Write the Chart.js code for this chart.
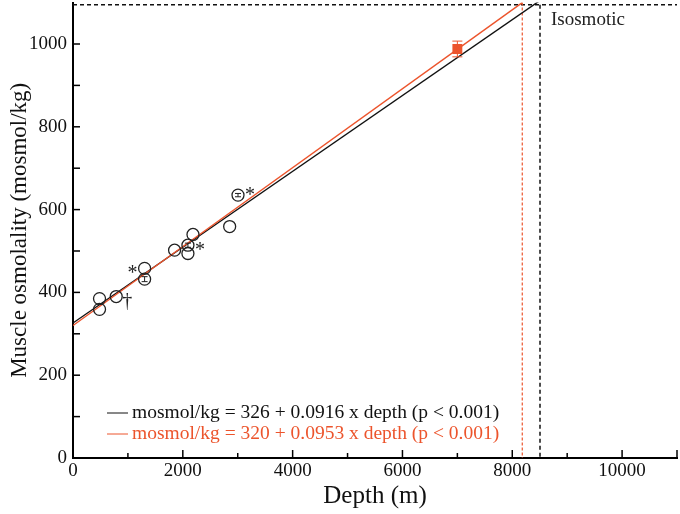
<!DOCTYPE html>
<html>
<head>
<meta charset="utf-8">
<script src="https://cdn.jsdelivr.net/npm/chart.js@4/dist/chart.umd.min.js"></script>
<style>
  body { margin: 0; background: #fff; }
</style>
</head>
<body>
<canvas id="chart" width="680" height="514"></canvas>
<script>
// shallow species (open circles)
const depth = [483, 483, 787, 1304, 1304, 1850, 2093, 2093, 2185, 2853, 3005];
const osmolality = [385, 359, 390, 458, 432, 502, 514, 494, 540, 559, 635];
const osmError = [0, 0, 0, 0, 6, 0, 5, 0, 0, 0, 4];
const marks = ['', '', '†', '*', '', '', '*', '', '', '', '*'];

// hadal snailfish (red square)
const deepDepth = [7000];
const deepOsm = [988];
const deepError = [19];

// regression lines, end points
const fitBlackX = [0, 8505];
const fitBlackY = [326, 1105];
const fitRedX = [0, 8182];
const fitRedY = [320, 1100];

// isosmotic limits
const isoOsm = 1095;
const isoDepthBlack = 8505;
const isoDepthRed = 8182;

const legendLines = [
    'mosmol/kg = 326 + 0.0916 x depth (p < 0.001)',
    'mosmol/kg = 320 + 0.0953 x depth (p < 0.001)'
];

const RED = 'rgb(236,84,44)';
const SERIF = '"Liberation Serif", "DejaVu Serif", serif';

const toPts = (xs, ys) => xs.map((x, i) => ({ x: x, y: ys[i] }));

const extras = {
    id: 'extras',
    afterDatasetsDraw(chart) {
        const ctx = chart.ctx;
        const xs = chart.scales.x, ys = chart.scales.y;
        const area = chart.chartArea;
        ctx.save();

        // inward ticks
        ctx.strokeStyle = '#000';
        ctx.lineWidth = 1.5;
        for (let v = 1000; v <= xs.max; v += 1000) {
            const px = xs.getPixelForValue(v);
            const len = v % 2000 === 0 || v === xs.max ? 8 : 5;
            ctx.beginPath();
            ctx.moveTo(px, area.bottom);
            ctx.lineTo(px, area.bottom - len);
            ctx.stroke();
        }
        for (let v = 100; v <= 1000; v += 100) {
            const py = ys.getPixelForValue(v);
            ctx.beginPath();
            ctx.moveTo(area.left, py);
            ctx.lineTo(area.left + 7, py);
            ctx.stroke();
        }

        // error bars
        ctx.lineWidth = 1;
        ctx.strokeStyle = '#222';
        depth.forEach((d, i) => {
            if (!osmError[i]) return;
            const px = xs.getPixelForValue(d);
            const top = ys.getPixelForValue(osmolality[i] + osmError[i]);
            const bot = ys.getPixelForValue(osmolality[i] - osmError[i]);
            ctx.beginPath();
            ctx.moveTo(px, top); ctx.lineTo(px, bot);
            ctx.moveTo(px - 3, top); ctx.lineTo(px + 3, top);
            ctx.moveTo(px - 3, bot); ctx.lineTo(px + 3, bot);
            ctx.stroke();
        });
        ctx.strokeStyle = RED;
        deepDepth.forEach((d, i) => {
            const px = xs.getPixelForValue(d);
            const top = ys.getPixelForValue(deepOsm[i] + deepError[i]);
            const bot = ys.getPixelForValue(deepOsm[i] - deepError[i]);
            ctx.beginPath();
            ctx.moveTo(px, top); ctx.lineTo(px, bot);
            ctx.moveTo(px - 5, top); ctx.lineTo(px + 5, top);
            ctx.moveTo(px - 5, bot); ctx.lineTo(px + 5, bot);
            ctx.stroke();
        });

        // asterisks and dagger
        ctx.fillStyle = '#222';
        ctx.font = '20px ' + SERIF;
        ctx.textBaseline = 'middle';
        ctx.textAlign = 'center';
        marks.forEach((m, i) => {
            if (!m) return;
            const px = xs.getPixelForValue(depth[i]);
            const py = ys.getPixelForValue(osmolality[i]);
            if (m === '†') ctx.fillText(m, px + 11, py + 5);
            else if (i === 3) ctx.fillText(m, px - 12, py + 5);
            else if (i === 10) ctx.fillText(m, px + 12, py + 1);
            else ctx.fillText(m, px + 12, py + 6);
        });

        // isosmotic label
        ctx.textAlign = 'left';
        ctx.font = '19px ' + SERIF;
        ctx.fillText('Isosmotic', xs.getPixelForValue(isoDepthBlack) + 11, 20);

        // equations
        ctx.font = '19.5px ' + SERIF;
        const colors = ['#111', RED];
        legendLines.forEach((t, i) => {
            const y = 413 + i * 21;
            ctx.strokeStyle = colors[i];
            ctx.fillStyle = colors[i];
            ctx.lineWidth = 1;
            ctx.beginPath();
            ctx.moveTo(107, y); ctx.lineTo(128, y);
            ctx.stroke();
            ctx.fillText(t, 132, y);
        });
        ctx.restore();
    }
};

new Chart(document.getElementById('chart'), {
    type: 'scatter',
    data: {
        datasets: [
            {
                data: toPts(deepDepth, deepOsm),
                pointStyle: 'rect', pointRadius: 7,
                backgroundColor: RED, borderColor: RED, borderWidth: 0
            },
            {
                data: toPts(depth, osmolality),
                pointStyle: 'circle', pointRadius: 6,
                backgroundColor: 'rgba(0,0,0,0)', borderColor: '#222', borderWidth: 1.3
            },
            {
                data: toPts(fitRedX, fitRedY),
                showLine: true, pointRadius: 0, borderColor: RED, borderWidth: 1.4
            },
            {
                data: toPts(fitBlackX, fitBlackY),
                showLine: true, pointRadius: 0, borderColor: '#111', borderWidth: 1.4
            },
            {
                data: [{ x: isoDepthRed, y: 1100 }, { x: isoDepthRed, y: 0 }],
                showLine: true, pointRadius: 0, borderColor: RED, borderWidth: 1.2,
                borderDash: [3, 2]
            },
            {
                data: [{ x: isoDepthBlack, y: isoOsm }, { x: isoDepthBlack, y: 0 }],
                showLine: true, pointRadius: 0, borderColor: '#111', borderWidth: 1.5,
                borderDash: [4, 3]
            },
            {
                data: [{ x: 0, y: isoOsm }, { x: 11000, y: isoOsm }],
                showLine: true, pointRadius: 0, borderColor: '#111', borderWidth: 1.5,
                borderDash: [4, 3]
            }
        ]
    },
    options: {
        responsive: false,
        animation: false,
        layout: { autoPadding: false, padding: { top: 2.6, right: 3, left: 0, bottom: 0 } },
        plugins: { legend: { display: false }, tooltip: { enabled: false } },
        scales: {
            x: {
                type: 'linear', min: 0, max: 11000,
                grid: { display: false, drawTicks: false },
                border: { display: true, color: '#000', width: 2 },
                ticks: {
                    stepSize: 1000, padding: 2, color: '#111', maxRotation: 0, autoSkip: false,
                    font: { family: SERIF, size: 19 },
                    callback: v => v % 2000 === 0 ? v : ''
                },
                title: {
                    display: true, text: 'Depth (m)', color: '#111',
                    font: { family: SERIF, size: 25 }, padding: { top: 0, bottom: 3 }
                },
                afterFit: s => { s.height = 56; s.paddingLeft = 0; s.paddingRight = 0; }
            },
            y: {
                min: 0, max: 1100,
                grid: { display: false, drawTicks: false },
                border: { display: true, color: '#000', width: 2 },
                ticks: {
                    stepSize: 100, padding: 6, color: '#111', autoSkip: false,
                    font: { family: SERIF, size: 19 },
                    callback: v => v % 200 === 0 && v <= 1000 ? v : ''
                },
                title: {
                    display: true, text: 'Muscle osmolality (mosmol/kg)', color: '#111',
                    font: { family: SERIF, size: 23 }, padding: { top: 6, bottom: 0 }
                },
                afterFit: s => { s.width = 73; s.paddingTop = 0; s.paddingBottom = 0; }
            }
        }
    },
    plugins: [extras]
});
</script>
</body>
</html>
